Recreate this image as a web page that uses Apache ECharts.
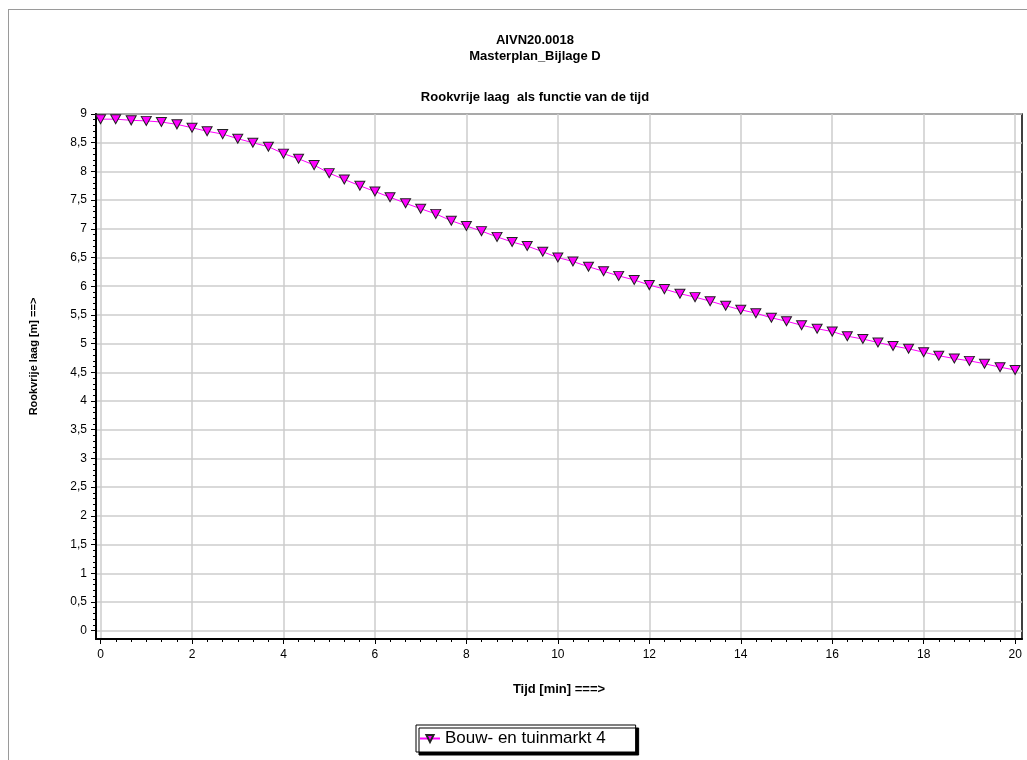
<!DOCTYPE html>
<html>
<head>
<meta charset="utf-8">
<script src="https://cdn.jsdelivr.net/npm/echarts@6/dist/echarts.min.js"></script>
<style>
  html, body { margin: 0; padding: 0; background: #fff; }
  #wrap { position: relative; width: 1027px; height: 760px; overflow: hidden; }
  #frame { position: absolute; left: 8px; top: 9px; width: 1030px; height: 760px;
           border-left: 1px solid #9a9a9a; border-top: 1px solid #9a9a9a; }
  #chart { position: absolute; left: 0; top: 0; width: 1027px; height: 760px; }
</style>
</head>
<body>
<div id="wrap">
  <div id="frame"></div>
  <div id="chart"></div>
</div>
<script>
// ---- data ----
const timeMin = [0, 0.33, 0.67, 1, 1.33, 1.67, 2, 2.33, 2.67, 3, 3.33, 3.67, 4, 4.33, 4.67, 5,
  5.33, 5.67, 6, 6.33, 6.67, 7, 7.33, 7.67, 8, 8.33, 8.67, 9, 9.33, 9.67, 10,
  10.33, 10.67, 11, 11.33, 11.67, 12, 12.33, 12.67, 13, 13.33, 13.67, 14, 14.33, 14.67, 15,
  15.33, 15.67, 16, 16.33, 16.67, 17, 17.33, 17.67, 18, 18.33, 18.67, 19, 19.33, 19.67, 20];
const smokeFreeLayer = [8.91, 8.91, 8.89, 8.88, 8.86, 8.82, 8.76, 8.70, 8.65, 8.57, 8.50, 8.43,
  8.31, 8.22, 8.11, 7.97, 7.86, 7.75, 7.65, 7.55, 7.445, 7.35, 7.26, 7.14, 7.05, 6.96,
  6.86, 6.77, 6.70, 6.60, 6.50, 6.43, 6.34, 6.26, 6.18, 6.11, 6.02, 5.95, 5.87, 5.81,
  5.74, 5.66, 5.59, 5.53, 5.45, 5.39, 5.32, 5.26, 5.21, 5.13, 5.08, 5.02, 4.96, 4.91,
  4.85, 4.79, 4.74, 4.70, 4.65, 4.59, 4.54];
const seriesName = 'Bouw- en tuinmarkt 4';
const xTicks = [0, 2, 4, 6, 8, 10, 12, 14, 16, 18, 20];
const yTicks = [0, 0.5, 1, 1.5, 2, 2.5, 3, 3.5, 4, 4.5, 5, 5.5, 6, 6.5, 7, 7.5, 8, 8.5, 9];
const titleLines = ['AIVN20.0018', 'Masterplan_Bijlage D'];
const subTitle = 'Rookvrije laag  als functie van de tijd';
const xName = 'Tijd [min] ===>';
const yName = 'Rookvrije laag [m] ==>';

// minor tick positions (axis decoration)
const xMinor = [];
for (let i = 0; i <= 60; i++) { if (i % 6 !== 0) xMinor.push(i / 3); }
const yMinor = [];
for (let i = 0; i <= 90; i++) { if (i % 5 !== 0) yMinor.push(i / 10); }

const FONT = 'Liberation Sans, Arial, sans-serif';
const X_MIN = -0.1, X_MAX = 20.15, Y_MIN = -0.145, Y_MAX = 9;

const chart = echarts.init(document.getElementById('chart'), null, { renderer: 'canvas' });
const option = {
  animation: false,
  backgroundColor: 'transparent',
  textStyle: { fontFamily: FONT, color: '#000' },
  title: [
    { text: titleLines.join('\n'), left: 530, top: 27, textAlign: 'center',
      textStyle: { fontFamily: FONT, fontSize: 13, fontWeight: 'bold', color: '#000', lineHeight: 16 } },
    { text: subTitle, left: 530, top: 86, textAlign: 'center',
      textStyle: { fontFamily: FONT, fontSize: 13, fontWeight: 'bold', color: '#000' } }
  ],
  legend: {
    data: [seriesName], left: 416, top: 725,
    itemWidth: 20, itemHeight: 9, padding: [5, 30, 5, 3],
    backgroundColor: '#fff', borderColor: '#000', borderWidth: 1,
    shadowColor: '#000', shadowOffsetX: 3, shadowOffsetY: 3, shadowBlur: 0,
    textStyle: { fontFamily: FONT, fontSize: 17, color: '#000' }
  },
  grid: { left: 96, right: 5, top: 114, bottom: 121, show: true, borderColor: '#000', borderWidth: 1.5, containLabel: false },
  xAxis: [
    { type: 'value', min: X_MIN, max: X_MAX, position: 'bottom',
      name: xName, nameLocation: 'middle', nameGap: 44,
      nameTextStyle: { fontFamily: FONT, fontSize: 13, fontWeight: 'bold', color: '#000' },
      axisLine: { show: true, onZero: false, lineStyle: { color: '#000', width: 2 } },
      axisTick: { show: true, inside: false, length: 5, customValues: xTicks, lineStyle: { color: '#000', width: 1 } },
      axisLabel: { show: true, customValues: xTicks, margin: 10, fontFamily: FONT, fontSize: 12, color: '#000',
        formatter: v => String(v).replace('.', ',') },
      splitLine: { show: true, lineStyle: { color: '#cdcdcd', width: 1.5 } }
    },
    { type: 'value', min: X_MIN, max: X_MAX, position: 'bottom',
      axisLine: { show: false, onZero: false },
      axisTick: { show: true, inside: false, length: 3, customValues: xMinor, lineStyle: { color: '#000', width: 1 } },
      axisLabel: { show: false }, splitLine: { show: false }
    }
  ],
  yAxis: [
    { type: 'value', min: Y_MIN, max: Y_MAX, position: 'left',
      name: yName, nameLocation: 'middle', nameGap: 57, nameRotate: 90,
      nameTextStyle: { fontFamily: FONT, fontSize: 11, fontWeight: 'bold', color: '#000', padding: [0, 0, 0, 40] },
      axisLine: { show: true, onZero: false, lineStyle: { color: '#000', width: 2 } },
      axisTick: { show: true, inside: false, length: 5, customValues: yTicks, lineStyle: { color: '#000', width: 1 } },
      axisLabel: { show: true, customValues: yTicks, margin: 9, fontFamily: FONT, fontSize: 12, color: '#000',
        formatter: v => String(v).replace('.', ',') },
      splitLine: { show: true, lineStyle: { color: '#cdcdcd', width: 1.5 } }
    },
    { type: 'value', min: Y_MIN, max: Y_MAX, position: 'left',
      axisLine: { show: false, onZero: false },
      axisTick: { show: true, inside: false, length: 3, customValues: yMinor, lineStyle: { color: '#000', width: 1 } },
      axisLabel: { show: false }, splitLine: { show: false }
    }
  ],
  series: [{
    name: seriesName, type: 'line', xAxisIndex: 0, yAxisIndex: 0,
    data: timeMin.map((t, i) => [t, smokeFreeLayer[i]]),
    symbol: 'path://M0,0 L10,0 L5,9 Z', symbolSize: [10, 9],
    lineStyle: { color: '#ff00ff', width: 1 },
    itemStyle: { color: '#ff00ff', borderColor: '#222', borderWidth: 1 },
    emphasis: { disabled: true }
  }]
};
chart.setOption(option);
</script>
</body>
</html>
